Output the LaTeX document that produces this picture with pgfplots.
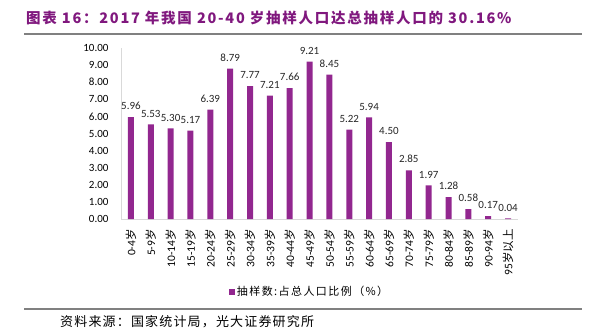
\documentclass[border=0pt]{standalone}
\usepackage{pgfplots}
\pgfplotsset{compat=1.18}
\usepackage{fontspec}
\setmainfont{Carlito}
\newfontfamily\cjk{Noto Sans CJK SC}
\newfontfamily\cjktitle[LetterSpace=12]{Noto Sans CJK SC}
\newfontfamily\cjksrc[LetterSpace=9]{Noto Sans CJK SC}
\newfontfamily\cjkleg[LetterSpace=13]{Noto Sans CJK SC}
\definecolor{barc}{HTML}{92278F}
\definecolor{titc}{HTML}{80187E}
\definecolor{linec}{HTML}{808080}
\definecolor{axc}{HTML}{D9D9D9}
\newcommand{\sui}{{\cjk 岁}}
\pgfkeys{/pgf/number format/assume math mode=true}

\pgfplotstableread{
x y
0 5.96
1 5.53
2 5.30
3 5.17
4 6.39
5 8.79
6 7.77
7 7.21
8 7.66
9 9.21
10 8.45
11 5.22
12 5.94
13 4.50
14 2.85
15 1.97
16 1.28
17 0.58
18 0.17
19 0.04
}\datatab

\begin{document}
\begin{tikzpicture}[x=1pt,y=1pt]
\useasboundingbox (0,0) rectangle (590,333);
\node[anchor=west, text=titc, font=\cjktitle\bfseries\fontsize{14.5}{16}\selectfont, inner sep=0] at (26,315) {图表 16：2017 年我国 20-40 岁抽样人口达总抽样人口的 30.16\%};
\draw[linec, line width=1.5pt] (24,299) -- (582,299);
\draw[linec, line width=1.5pt] (24,24) -- (582,24);
\node[anchor=west, font=\cjksrc\fontsize{13}{15}\selectfont, inner sep=0] at (60,11) {资料来源：国家统计局，光大证券研究所};
\begin{axis}[
  at={(121pt,114pt)}, anchor=south west,
  scale only axis, width=397pt, height=171pt,
  ymin=0, ymax=10, ytick={0,1,...,10},
  xmin=-0.5, xmax=19.5, xtick={0,...,19},
  xticklabels={{0-4\sui},{5-9\sui},{10-14\sui},{15-19\sui},{20-24\sui},{25-29\sui},{30-34\sui},{35-39\sui},{40-44\sui},{45-49\sui},{50-54\sui},{55-59\sui},{60-64\sui},{65-69\sui},{70-74\sui},{75-79\sui},{80-84\sui},{85-89\sui},{90-94\sui},{95\sui{\cjk 以上}}},
  axis x line*=bottom, axis y line*=left,
  axis line style={draw=axc, line width=0.8pt},
  major tick length=0pt,
  yticklabel style={font=\fontsize{11}{12}\selectfont, xshift=-9pt, /pgf/number format/.cd, fixed, fixed zerofill, precision=2},
  xticklabel style={font=\fontsize{11.5}{12}\selectfont, rotate=90, anchor=east, inner sep=0pt},
  xticklabel shift=10pt,
  ybar, bar width=6pt,
  nodes near coords={\pgfmathprintnumber[fixed,fixed zerofill,precision=2]{\pgfplotspointmeta}},
  every node near coord/.append style={font=\fontsize{11}{12}\selectfont, text=black!85, inner sep=1pt, yshift=6pt},
  legend style={at={(0.475,-0.427)}, anchor=center, draw=none, font=\cjkleg\fontsize{11}{12}\selectfont, inner sep=0pt},
  legend image code/.code={\fill[barc] (0pt,-3pt) rectangle (6pt,3pt);},
  clip=false,
]
\addplot[fill=barc, draw=none] table[x=x,y=y] {\datatab};
\addlegendentry{抽样数:占总人口比例（\%）}
\end{axis}
\end{tikzpicture}
\end{document}
